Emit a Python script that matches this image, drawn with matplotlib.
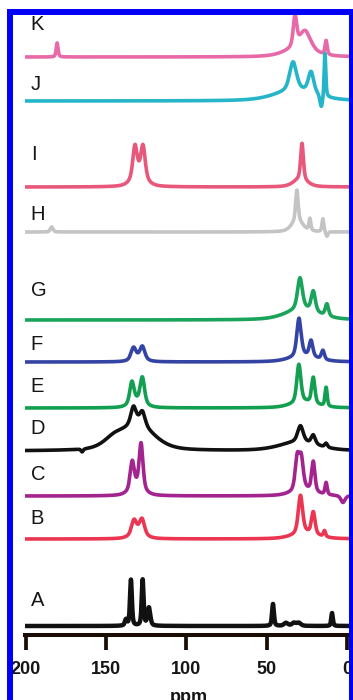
import numpy as np
import matplotlib
matplotlib.use('Agg')
import matplotlib.pyplot as plt
from matplotlib.patches import Rectangle

plt.rcParams['font.family'] = ['Liberation Sans', 'DejaVu Sans']

#####################
# Peak tables
# (ppm, height, half width in ppm)
#####################
peaks_K = [(180.6, 14, 0.7), (32.4, 30, 1.3), (26, 18, 4), (30, 9, 10), (13, 14, 0.8)]
peaks_J = [(32, 11, 15), (33.6, 28, 2.5), (22.4, 21, 2), (13.7, 44, 0.6), (16, -13, 1.0)]
peaks_I = [(132.1, 32, 1.6), (127.1, 32, 1.6), (129.6, 11, 5), (28, 36, 1.0), (29, 8, 5)]
peaks_H = [(184, 5, 1.0), (31.2, 30, 0.9), (31, 12, 4), (23.1, 12, 0.7), (15, 13, 0.7), (12.5, -5, 0.8)]
peaks_G = [(28, 11, 12), (29.3, 31, 1.8), (21, 20, 1.5), (12.5, 12, 1.2)]
peaks_F = [(133, 12, 1.8), (127.5, 13, 1.8), (130, 3, 5),
           (27, 6, 10), (29.9, 38, 1.6), (22.4, 16, 1.3), (15, 9, 1.1)]
peaks_E = [(134, 22, 1.6), (127.5, 26, 1.6), (130.5, 6, 5),
           (27, 6, 9), (30, 38, 1.5), (21, 26, 1.2), (13, 19, 0.8)]
peaks_D = [(133, 18, 2), (127.5, 14, 2), (130, 25, 12), (145, 9, 8), (165, -3, 0.8),
           (30, 9, 14), (29, 16, 2), (21, 9, 1.5), (13, 4, 1)]
peaks_C = [(133.8, 28, 1.5), (128.3, 46, 1.4), (131, 8, 5),
           (31, 32, 1.5), (28.5, 30, 1.5), (21, 30, 1.2), (13, 12, 0.8), (27, 6, 8), (2.5, -7, 1.5)]
peaks_B = [(132.7, 14, 1.8), (127.7, 15, 1.8), (130.2, 6, 5),
           (29, 38, 1.6), (21, 22, 1.3), (14, 6, 0.8), (26, 6, 9)]
peaks_A = [(137.7, 6, 0.8), (134.6, 46, 0.7), (127.3, 46, 0.7), (123.4, 18, 1.0),
           (46.1, 22, 0.7), (38, 3, 1.5), (33, 3, 1.5), (30, 3, 1.5), (9.3, 13, 0.6)]

labels = ['K', 'J', 'I', 'H', 'G', 'F', 'E', 'D', 'C', 'B', 'A']
spectra = [peaks_K, peaks_J, peaks_I, peaks_H, peaks_G, peaks_F,
           peaks_E, peaks_D, peaks_C, peaks_B, peaks_A]
colors = ['#e869a8', '#25b5c8', '#e8587a', '#c4c4c4', '#1aa35a', '#3444a4',
          '#12a050', '#111111', '#a3238f', '#ec3550', '#111111']
ticks = [200, 150, 100, 50, 0]

# layout (pixels from top of the 700 px figure)
baseline_px = [57, 101, 187, 232, 320, 362, 408, 451, 496, 539, 626]
label_px = [25, 85, 155, 215, 290, 344, 386, 428, 474, 519, 601]
H_PX = 700.0
AX_BOTTOM = 635


def spectrum(ppm, peaks):
    # pseudo-Voigt line shapes (half Lorentzian, half Gaussian)
    y = np.zeros_like(ppm)
    for x0, h, w in peaks:
        u = (ppm - x0) / w
        y += h * (0.5 / (1.0 + u ** 2) + 0.5 * np.exp(-np.log(2) * u ** 2))
    return y


ppm = np.linspace(-2.0, 200.7, 4000)

fig = plt.figure(figsize=(3.53, 7.0), dpi=100, facecolor='white')
ax = fig.add_axes([25 / 353, (H_PX - AX_BOTTOM) / H_PX, 325 / 353, (AX_BOTTOM - 14) / H_PX])
ax.set_facecolor('white')

for peaks, col, base, lab, lpx in zip(spectra, colors, baseline_px, labels, label_px):
    lw = 3.2 if lab == 'A' else 2.6
    ax.plot(ppm, (H_PX - base) + spectrum(ppm, peaks), color=col, lw=lw,
            solid_joinstyle='round', solid_capstyle='round')
    ax.text(197.0, H_PX - lpx, lab, fontsize=14.5, va='center', ha='left', color='#151515')

ax.set_xlim(200.62, -1.87)
ax.set_ylim(H_PX - AX_BOTTOM, H_PX - 14)

for s in ['top', 'left', 'right']:
    ax.spines[s].set_visible(False)
ax.spines['bottom'].set_linewidth(2.9)
ax.spines['bottom'].set_color('#1a0d05')
ax.set_yticks([])
ax.set_xticks(ticks)
ax.set_xticklabels([str(t) for t in ticks], fontsize=13, fontweight='bold', color='#151515')
ax.tick_params(axis='x', direction='out', length=11, width=2.7, color='#1a0d05', pad=8)

# axis title, cut by the bottom edge as in the original
fig.text(189 / 353, (H_PX - 701.5) / H_PX, 'ppm', fontsize=13, fontweight='bold',
         ha='center', va='baseline', color='#151515')

# blue frame around the panel
fig.add_artist(Rectangle((10 / 353, -0.05), (352 - 10) / 353, 1.05 - 12.5 / H_PX,
                         transform=fig.transFigure, fill=False,
                         edgecolor='#0000f5', linewidth=4.3, zorder=10))

plt.savefig('out.png', dpi=100, facecolor='white')
